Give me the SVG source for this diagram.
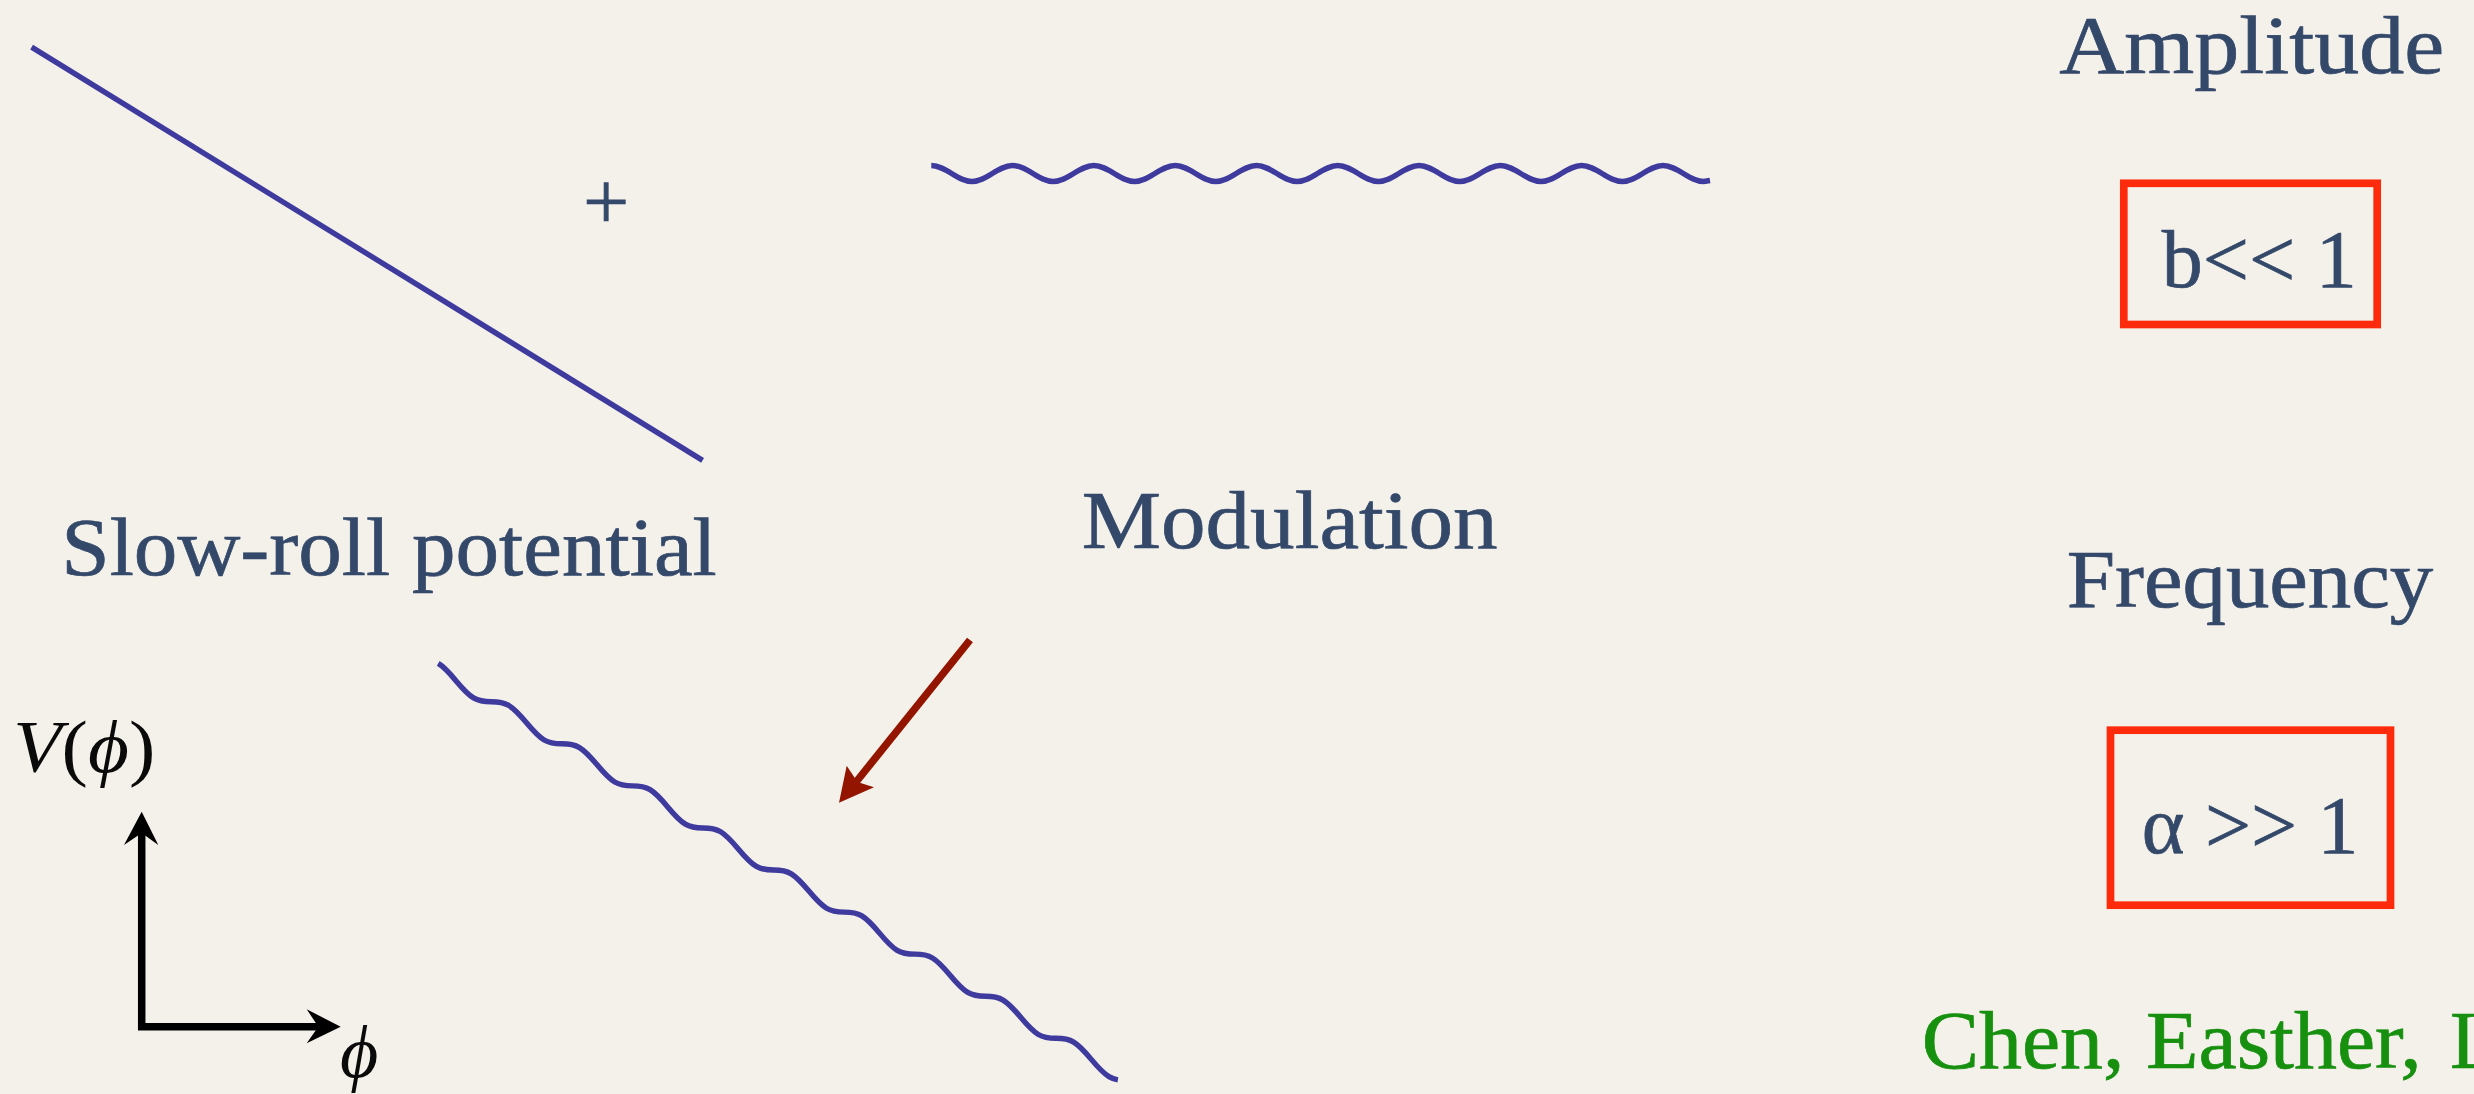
<svg xmlns="http://www.w3.org/2000/svg" width="2474" height="1094" viewBox="0 0 2474 1094">
<style>
.t{font-family:"Liberation Serif","DejaVu Serif",serif;font-size:82px;fill:#34496a;stroke:#34496a;stroke-width:0.7}
.g{font-family:"Liberation Serif","DejaVu Serif",serif;font-size:82px;fill:#17900f;stroke:#17900f;stroke-width:0.7}
.m{font-family:"Liberation Serif","DejaVu Serif",serif;font-size:74px;fill:#0a0a0a}
.curve{fill:none;stroke:#3e3a9e;stroke-width:5.4;stroke-linecap:butt}
.box{fill:none;stroke:#fd2b0c;stroke-width:7.7}
.axis{fill:none;stroke:#000;stroke-width:7.5}
</style>
<rect x="0" y="0" width="2474" height="1094" fill="#f4f1ea"/>

<g id="slow-roll">
  <line class="curve" stroke-width="4.8" x1="31.6" y1="47.1" x2="702.6" y2="460.4"/>
  <text class="t" x="61.2" y="575.3" textLength="655.6" lengthAdjust="spacingAndGlyphs">Slow-roll potential</text>
</g>

<g id="plus">
  <text class="t" x="606" y="228.5" text-anchor="middle" stroke-width="0.3">+</text>
</g>

<g id="modulation">
  <path class="curve" d="M931.3,165.5 C946.1,165.5 957.15,181.5 971.95,181.5 S997.8,165.5 1012.6,165.5 S1038.45,181.5 1053.25,181.5 S1079.1,165.5 1093.9,165.5 S1119.75,181.5 1134.55,181.5 S1160.4,165.5 1175.2,165.5 S1201.05,181.5 1215.85,181.5 S1241.7,165.5 1256.5,165.5 S1282.35,181.5 1297.15,181.5 S1323,165.5 1337.8,165.5 S1363.65,181.5 1378.45,181.5 S1404.3,165.5 1419.1,165.5 S1444.95,181.5 1459.75,181.5 S1485.6,165.5 1500.4,165.5 S1526.25,181.5 1541.05,181.5 S1566.9,165.5 1581.7,165.5 S1607.55,181.5 1622.35,181.5 S1648.2,165.5 1663,165.5 S1688.85,181.5 1703.65,181.5 L1710,180.5"/>
  <text class="t" x="1081.7" y="548.3" textLength="416" lengthAdjust="spacingAndGlyphs">Modulation</text>
</g>

<g id="amplitude">
  <text class="t" x="2059.3" y="73" textLength="385" lengthAdjust="spacingAndGlyphs">Amplitude</text>
  <rect class="box" x="2123.8" y="183.3" width="253.4" height="141.2"/>
  <text class="t" x="2161.7" y="286.7" textLength="195" lengthAdjust="spacingAndGlyphs">b&lt;&lt; 1</text>
</g>

<g id="frequency">
  <text class="t" x="2066.7" y="607" textLength="366.6" lengthAdjust="spacingAndGlyphs">Frequency</text>
  <rect class="box" x="2110.5" y="730.2" width="280" height="175"/>
  <text class="t" x="2141.7" y="852.7" textLength="216.6" lengthAdjust="spacingAndGlyphs">α &gt;&gt; 1</text>
</g>

<g id="modulated-potential">
  <path class="curve" vector-effect="non-scaling-stroke" transform="matrix(1 0.596 0 1 491.2 701.7)" d="M-52.95,-6.7 C-40.1,-6.7 -30.5,6.7 -17.65,6.7 S4.8,-6.7 17.65,-6.7 S40.1,6.7 52.95,6.7 S75.4,-6.7 88.25,-6.7 S110.7,6.7 123.55,6.7 S146,-6.7 158.85,-6.7 S181.3,6.7 194.15,6.7 S216.6,-6.7 229.45,-6.7 S251.9,6.7 264.75,6.7 S287.2,-6.7 300.05,-6.7 S322.5,6.7 335.35,6.7 S357.8,-6.7 370.65,-6.7 S393.1,6.7 405.95,6.7 S428.4,-6.7 441.25,-6.7 S463.7,6.7 476.55,6.7 S499,-6.7 511.85,-6.7 S534.3,6.7 547.15,6.7 S569.6,-6.7 582.45,-6.7 S604.9,6.7 617.75,6.7 C620.73,6.7 623.72,5.9 626.7,4.61"/>
</g>

<g id="axes">
  <polyline class="axis" points="141.7,833 141.7,1026.7 318.3,1026.7"/>
  <polygon points="141.7,811.7 124,845 141.7,833 158.3,845" fill="#000"/>
  <polygon points="340.7,1026.7 306.7,1009.3 318.3,1026.7 306.7,1043.3" fill="#000"/>
  <text class="m" x="13.3" y="771.7" textLength="142" lengthAdjust="spacingAndGlyphs"><tspan font-style="italic">V</tspan>(<tspan font-style="italic">ϕ</tspan>)</text>
  <text class="m" x="340" y="1077" font-style="italic">ϕ</text>
</g>

<g id="connectors">
  <line x1="970" y1="640" x2="856.5" y2="781.5" stroke="#931500" stroke-width="7.5"/>
  <polygon points="839,802.7 846.7,765.7 857.5,782 874,787.3" fill="#931500"/>
</g>

<g id="citation">
  <text class="g" x="1921.7" y="1068.3"><tspan textLength="500" lengthAdjust="spacingAndGlyphs">Chen, Easther,</tspan><tspan x="2450">L</tspan></text>
</g>
</svg>
